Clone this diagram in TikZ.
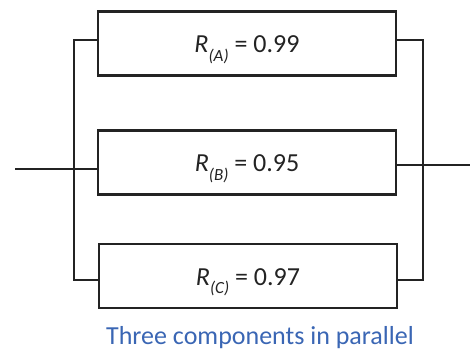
\documentclass[tikz,border=0pt]{standalone}
\usepackage{fontspec}
\setmainfont{Carlito}
\definecolor{capblue}{RGB}{58,102,180}
\definecolor{linegray}{RGB}{35,35,35}
\begin{document}
\begin{tikzpicture}[x=1pt,y=-1pt,
  comp/.style={draw=linegray,line width=2.8pt,minimum width=298pt,minimum height=64pt,inner sep=0pt},
  lbl/.style={anchor=base,inner sep=0pt,text=linegray,font=\fontsize{26}{28}\selectfont},
  wire/.style={draw=linegray,line width=2.8pt}]
\newcommand{\rsub}[1]{\textit{R}\raisebox{-0.7ex}{\fontsize{17}{18}\selectfont\textit{(#1)}}}
\useasboundingbox (0,0) rectangle (470,352);
\node[comp] (A) at (247,43.5) {};
\node[comp] (B) at (247,162.5) {};
\node[comp] (C) at (248,276) {};
\node[lbl] (tA) at ([yshift=-9.5pt]A.center) {\rsub{A} = 0.99};
\node[lbl] (tB) at ([yshift=-9.5pt]B.center) {\rsub{B} = 0.95};
\node[lbl] (tC) at ([yshift=-9pt]C.center) {\rsub{C} = 0.97};
\coordinate (in) at (15,169);
\coordinate (out) at (470,165);
\coordinate (lt) at (74,40);
\coordinate (lb) at (74,280);
\coordinate (rt) at (423,40);
\coordinate (rb) at (423,280);
\draw[wire] (A.west |- lt) -- (lt) -- (lb) -- (C.west |- lb);
\draw[wire] (A.east |- rt) -- (rt) -- (rb) -- (C.east |- rb);
\draw[wire] (in) -- (B.west |- in);
\draw[wire] (B.east |- out) -- (out);
\node[text=capblue,font=\fontsize{26}{28}\selectfont,anchor=base,inner sep=0pt] (cap) at (260,344) {Three components in parallel};
\end{tikzpicture}
\end{document}
